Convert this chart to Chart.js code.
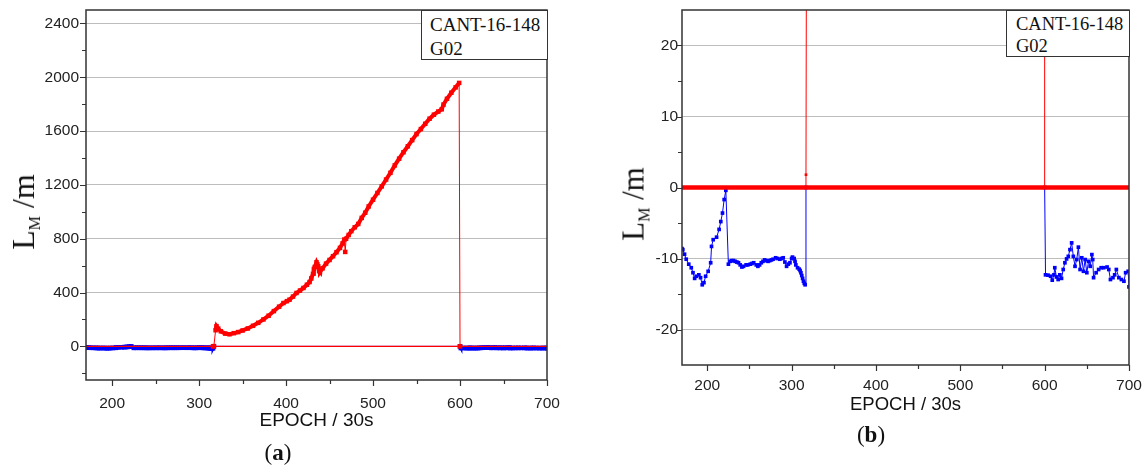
<!DOCTYPE html>
<html>
<head>
<meta charset="utf-8">
<script src="https://cdn.jsdelivr.net/npm/chart.js@4.4.0/dist/chart.umd.min.js"></script>
<style>
  body { margin: 0; background: #fff; width: 1147px; height: 468px; position: relative; overflow: hidden; font-family: "Liberation Serif", serif; color: #111; }
  canvas { position: absolute; top: 0; }
  #chartA { left: 0; }
  #chartB { left: 570px; }
  .ytitle { position: absolute; line-height: 1; white-space: nowrap; transform: translate(-50%, -50%) rotate(-90deg); }
  .ytitle sub { font-size: 16px; vertical-align: -6px; }
  .note { position: absolute; top: 10px; box-sizing: border-box; border: 1px solid #333; background: #fff; padding: 2px 0 0 8px; white-space: nowrap; }
  .cap { position: absolute; font-size: 23px; transform: translate(-50%, -50%); }
</style>
</head>
<body>
<canvas id="chartA" width="570" height="468"></canvas>
<canvas id="chartB" width="577" height="468"></canvas>

<div class="ytitle" style="left:25px; top:212px; font-size:32px;">L<sub>M</sub> /m</div>
<div class="ytitle" style="left:635px; top:204px; font-size:31px;">L<sub>M</sub> /m</div>

<div class="note" style="left:421px; width:127px; height:50px; font-size:19px; line-height:24px;">CANT-16-148<br>G02</div>
<div class="note" style="left:1006px; width:124px; height:47px; font-size:18.5px; line-height:22px; padding-left:9px;">CANT-16-148<br>G02</div>

<div class="cap" style="left:278px; top:453px;">(<b>a</b>)</div>
<div class="cap" style="left:871px; top:435px;">(<b>b</b>)</div>

<script>
// blue series (same data in both panels)
const blueEpoch = [170, 171, 173, 175, 178, 181, 183, 185, 187, 190, 192, 194, 196, 198, 201, 204, 205, 207, 211, 214, 216, 218, 220, 222,
  225, 227, 229, 231, 233, 235, 237, 239, 241, 243, 246, 248, 251, 253, 255, 258, 260, 262, 264, 266, 268, 270, 272, 274, 276, 278,
  281, 283, 286, 288, 290, 292, 294, 296, 298, 300, 301, 303, 304, 305, 307, 309, 310, 311, 312, 313, 314, 315, 316,
  317, 600,
  601, 604, 607, 609, 611, 612, 614, 616, 618, 620, 622, 624, 626, 628, 630, 632, 634, 636, 638, 640, 642, 644, 646, 648, 650,
  652, 654, 656, 657, 658, 661, 664, 667, 670, 674, 676, 678, 681, 683, 685, 688, 691, 694, 696, 699, 700];
const blueLm = [-8.6, -8.75, -9.4, -10.1, -10.8, -11.3, -12.0, -12.8, -12.5, -12.3, -12.7, -13.7, -13.4, -12.5, -11.8, -10.6, -8.3, -7.35, -7.0, -5.9, -4.8, -3.6, -1.7, -0.4,
  -10.8, -10.4, -10.3, -10.3, -10.4, -10.5, -10.6, -10.9, -11.2, -11.1, -10.9, -10.9, -10.8, -10.7, -10.6, -10.9, -11.1, -10.9, -10.6, -10.4, -10.2, -10.3, -10.4, -10.3, -10.2, -10.1,
  -9.9, -10.0, -10.1, -10.0, -9.9, -10.5, -11.1, -10.8, -10.6, -10.0, -9.8, -10.0, -10.4, -10.9, -11.3, -11.5, -11.7, -12.0, -12.4, -12.8, -13.2, -13.5, -13.7,
  0, 0,
  -12.3, -12.35, -12.5, -13.05, -12.3, -11.3, -12.6, -12.96, -12.3, -12.8, -11.55, -10.6, -10.06, -9.7, -8.75, -7.8, -9.7, -11.1, -10.15, -8.4, -11.55, -9.9, -11.8, -10.15, -12.0,
  -10.4, -11.1, -9.45, -10.15, -12.7, -12.0, -11.55, -11.3, -11.3, -11.2, -11.55, -12.96, -12.7, -12.3, -11.55, -12.7, -12.96, -13.2, -12.0, -11.8, -14.0];

// red series
const redEpoch = [316, 317, 319, 320, 322, 325, 330, 335, 340, 345, 350, 356, 362, 368, 374, 380, 386, 392, 397, 401, 404, 408, 412, 416, 420,
  424, 427, 429, 431, 432, 433, 435, 436, 437, 438, 439, 442, 446, 450, 454, 458, 462, 465, 467, 468, 469, 472, 475, 479, 483, 487, 491, 495,
  500, 505, 510, 515, 520, 525, 530, 535, 540, 545, 550, 555, 560, 565, 570, 575, 579, 581, 585, 590, 595, 599, 600];
const redLm = [0, 1.8, 120, 150, 132, 112, 95, 90, 98, 106, 118, 133, 153, 175, 200, 228, 262, 295, 322, 336, 347, 370, 397, 415, 434,
  458, 478, 505, 540, 575, 590, 625, 610, 595, 560, 553, 580, 615, 642, 670, 700, 732, 765, 794, 702, 800, 828, 856, 885, 910, 955, 993, 1040,
  1090, 1140, 1189, 1240, 1290, 1345, 1395, 1443, 1487, 1533, 1578, 1615, 1654, 1692, 1722, 1745, 1762, 1797, 1840, 1885, 1925, 1958, 0];

// zero reference line
const zeroEpoch = [170, 700];
const zeroLm = [0, 0];

// ticks
const xMajor = [200, 300, 400, 500, 600, 700];
const xMinor = [250, 350, 450, 550, 650];
const yMajorA = [0, 400, 800, 1200, 1600, 2000, 2400];
const yMinorA = [-200, 200, 600, 1000, 1400, 1800, 2200];
const yMajorB = [-20, -10, 0, 10, 20];
const yMinorB = [-15, -5, 5, 15];

const pts = (xs, ys) => xs.map((x, i) => ({x: x, y: ys[i]}));

// frame box and tick marks (major longer than minor)
const frameTicks = {
  id: 'frameTicks',
  afterDatasetsDraw(chart) {
    const {ctx, chartArea: a, scales: {x, y}} = chart;
    ctx.save();
    ctx.strokeStyle = '#333';
    ctx.lineWidth = 1.5;
    ctx.strokeRect(a.left, a.top, a.right - a.left, a.bottom - a.top);
    ctx.lineWidth = 1.2;
    ctx.beginPath();
    x.ticks.forEach(t => {
      const px = Math.round(x.getPixelForValue(t.value)) + 0.5;
      ctx.moveTo(px, a.bottom);
      ctx.lineTo(px, a.bottom + (t.label !== '' ? 6 : 4));
    });
    y.ticks.forEach(t => {
      const py = Math.round(y.getPixelForValue(t.value)) + 0.5;
      ctx.moveTo(a.left, py);
      ctx.lineTo(a.left - (t.label !== '' ? 6 : 4), py);
    });
    ctx.stroke();
    ctx.restore();
  }
};

function noPad(s) {
  s.paddingTop = 0; s.paddingBottom = 0; s.paddingLeft = 0; s.paddingRight = 0;
}

function makeScales(yMin, yMax, yMajor, yMinor, yWidth, xHeight, xPad, yPad, xTitlePad, xTitleSize) {
  const tickFont = {family: 'Liberation Sans', size: 15.5};
  return {
    x: {
      type: 'linear', min: 170, max: 700,
      afterBuildTicks: s => { s.ticks = xMajor.concat(xMinor).sort((a, b) => a - b).map(v => ({value: v})); },
      afterFit: s => { s.height = xHeight; noPad(s); },
      ticks: {callback: v => xMajor.includes(v) ? String(v) : '', font: tickFont, color: '#222', padding: xPad, maxRotation: 0, autoSkip: false},
      grid: {drawOnChartArea: false, drawTicks: false},
      border: {display: false},
      title: {display: true, text: 'EPOCH / 30s', color: '#111', font: {family: 'Liberation Sans', size: xTitleSize}, padding: {top: 0, bottom: xTitlePad}}
    },
    y: {
      type: 'linear', min: yMin, max: yMax,
      afterBuildTicks: s => { s.ticks = yMajor.concat(yMinor).sort((a, b) => a - b).map(v => ({value: v})); },
      afterFit: s => { s.width = yWidth; noPad(s); },
      ticks: {callback: v => yMajor.includes(v) ? String(v) : '', font: tickFont, color: '#222', padding: yPad, autoSkip: false},
      grid: {drawTicks: false, lineWidth: 1, color: c => (c.tick && yMajor.includes(c.tick.value)) ? '#bdbdbd' : 'rgba(0,0,0,0)'},
      border: {display: false}
    }
  };
}

const commonOpts = {
  responsive: false,
  animation: false,
  plugins: {legend: {display: false}, tooltip: {enabled: false}},
  elements: {line: {tension: 0}}
};

new Chart(document.getElementById('chartA'), {
  type: 'line',
  data: {
    datasets: [{
      data: pts(redEpoch, redLm),
      borderColor: '#ff0000',
      backgroundColor: '#ff0000',
      pointStyle: 'rect', pointRadius: 3.2, pointBorderWidth: 0,
      segment: {borderWidth: c => Math.abs(c.p1.parsed.y - c.p0.parsed.y) > 60 ? 1 : 4}
    }, {
      data: pts(zeroEpoch, zeroLm),
      borderColor: '#ff0000', borderWidth: 1.4, pointRadius: 0
    }, {
      data: pts(blueEpoch, blueLm),
      borderColor: '#0000ff', backgroundColor: '#0000ff',
      pointStyle: 'rect', pointRadius: 3.3, pointBorderWidth: 0,
      segment: {borderWidth: c => (c.p1.parsed.x - c.p0.parsed.x) > 50 ? 1 : 3}
    }]
  },
  options: Object.assign({}, commonOpts, {
    layout: {autoPadding: false, padding: {left: 0, top: 10, right: 23, bottom: 0}},
    scales: makeScales(-250, 2500, yMajorA, yMinorA, 86, 88, 14, 7, 36, 19)
  }),
  plugins: [frameTicks]
});

new Chart(document.getElementById('chartB'), {
  type: 'line',
  data: {
    datasets: [{
      data: pts(redEpoch, redLm),
      borderColor: '#ff0000', backgroundColor: '#ff0000', borderWidth: 1,
      pointStyle: 'rect', pointRadius: 1.9, pointBorderWidth: 0
    }, {
      data: pts(zeroEpoch, zeroLm),
      borderColor: '#ff0000', borderWidth: 4.5, pointRadius: 0
    }, {
      data: pts(blueEpoch, blueLm),
      borderColor: '#0000ff', backgroundColor: '#0000ff', borderWidth: 1,
      pointStyle: 'rect', pointRadius: 2.6, pointBorderWidth: 0
    }]
  },
  options: Object.assign({}, commonOpts, {
    layout: {autoPadding: false, padding: {left: 0, top: 10, right: 18, bottom: 0}},
    scales: makeScales(-25, 25, yMajorB, yMinorB, 112, 103, 11, 4, 52, 18.5)
  }),
  plugins: [frameTicks]
});
</script>
</body>
</html>
